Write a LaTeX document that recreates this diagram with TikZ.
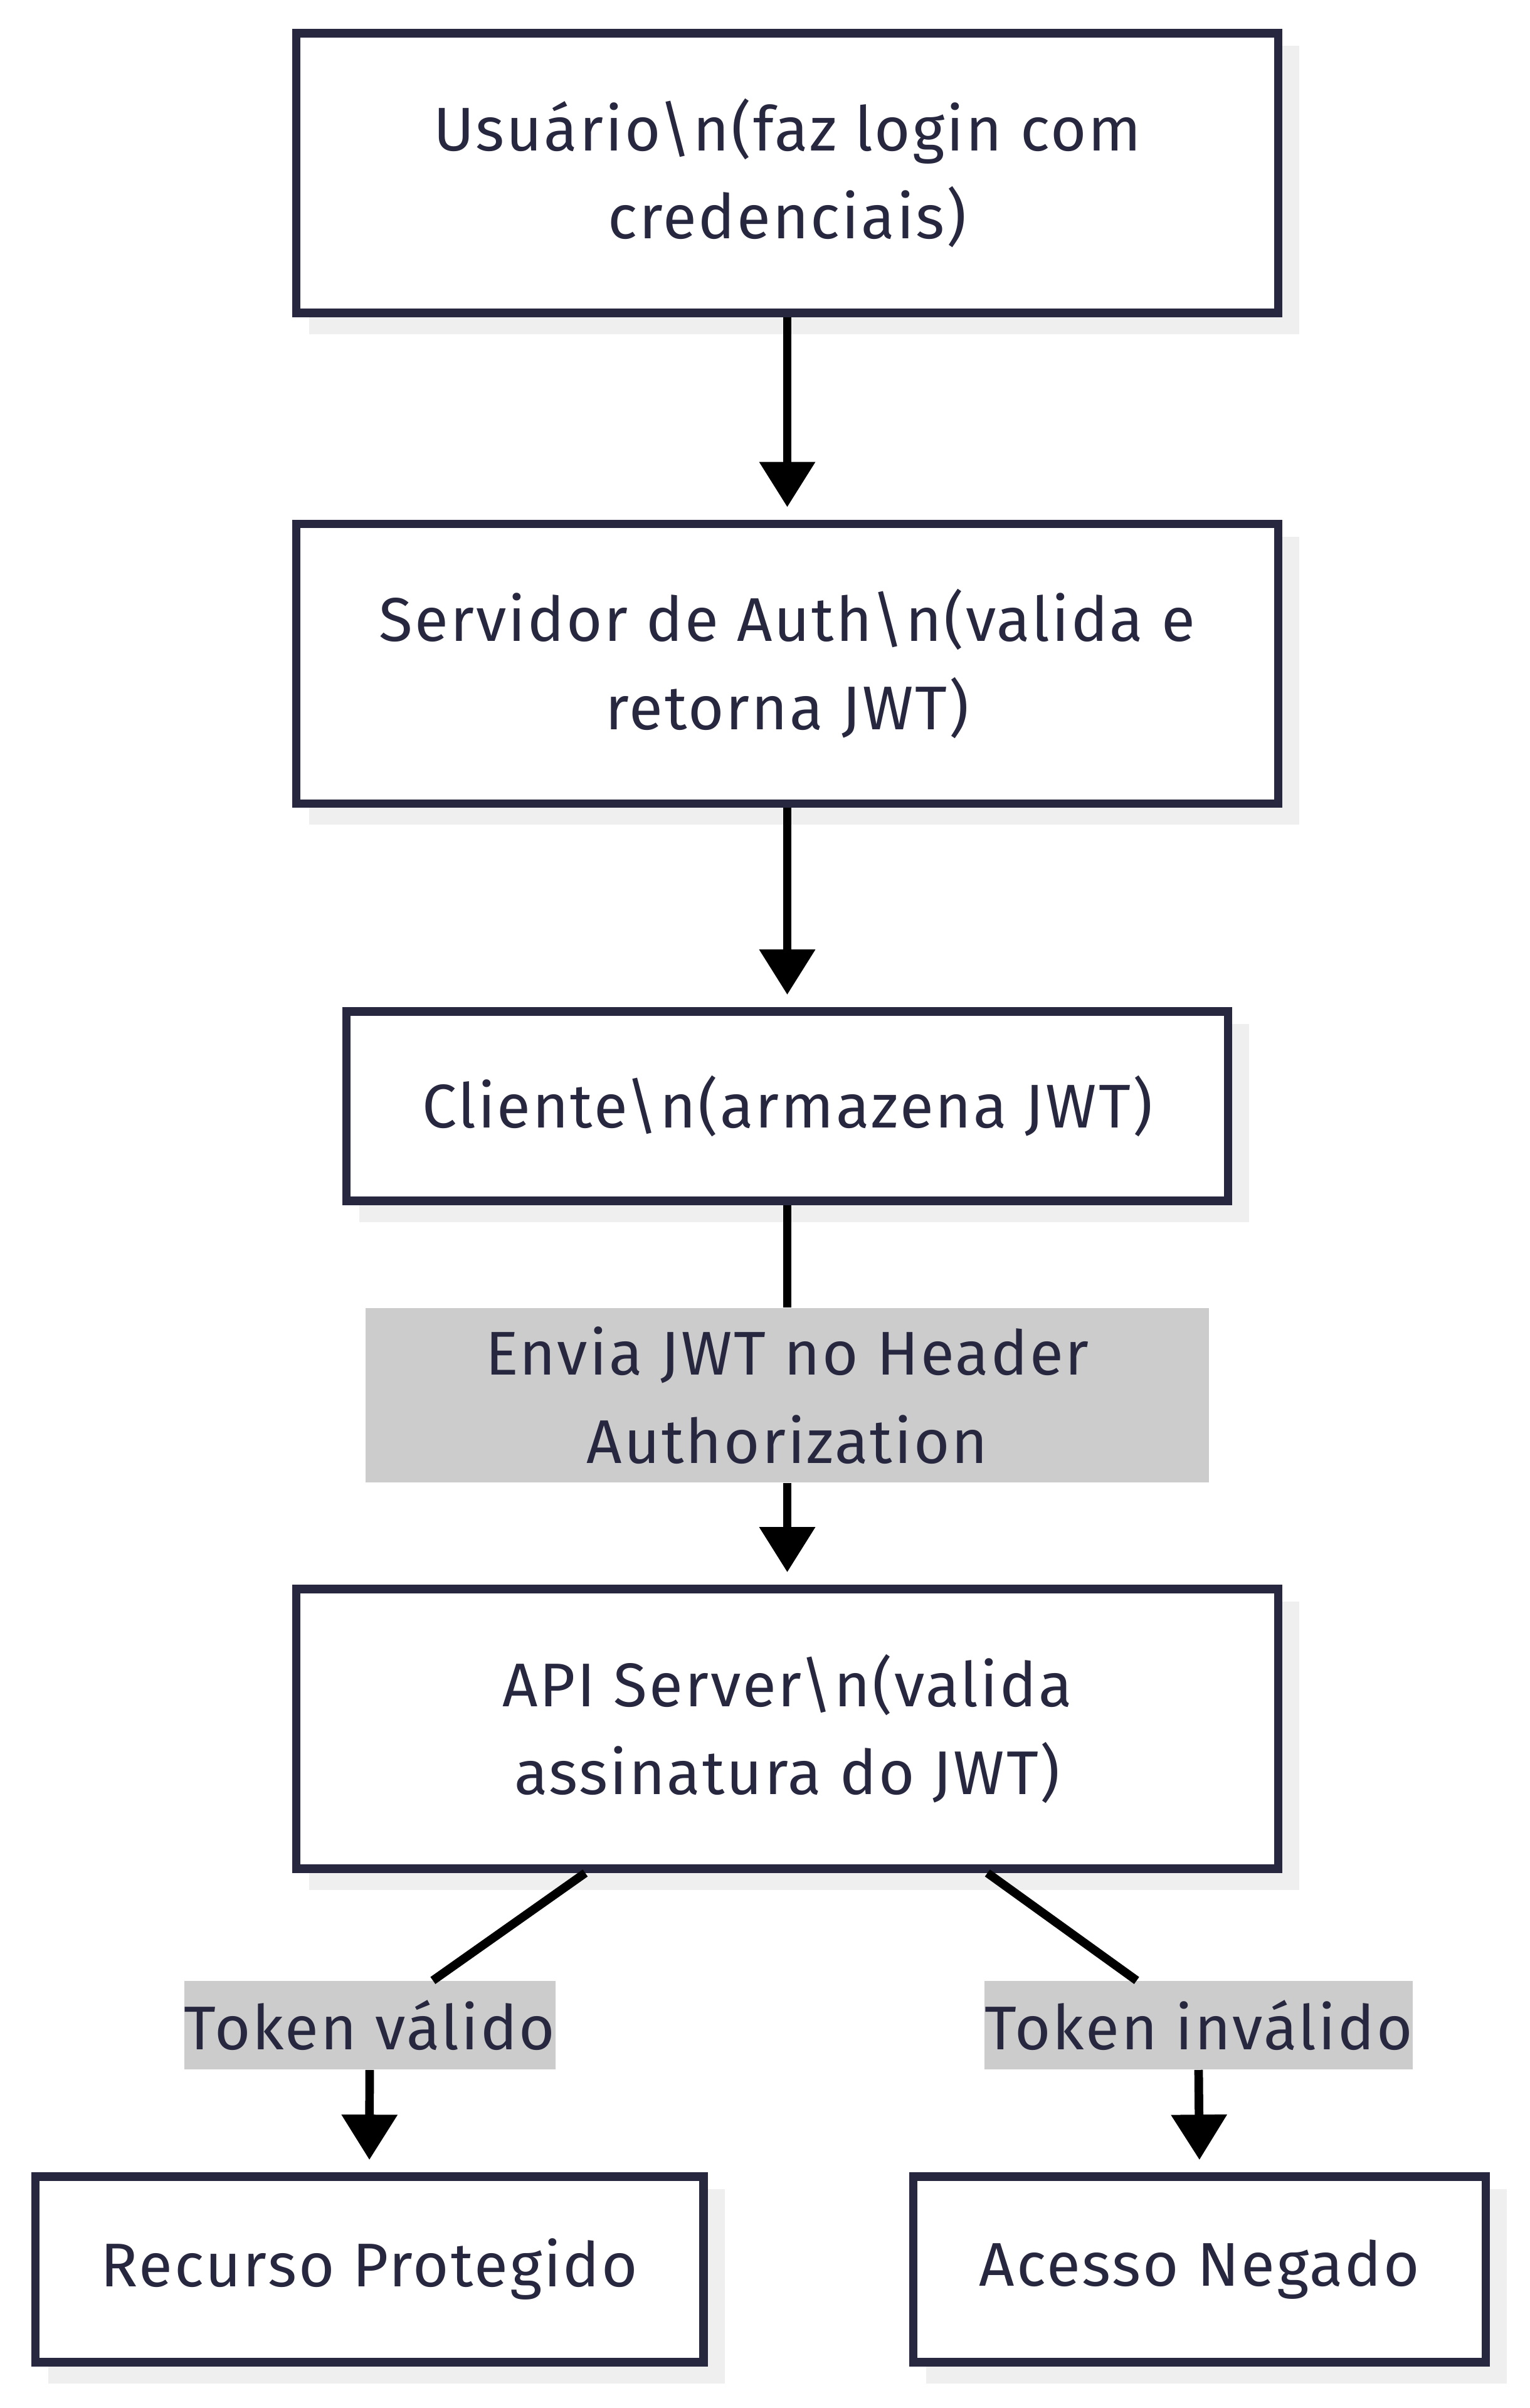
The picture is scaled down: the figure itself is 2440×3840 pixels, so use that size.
\documentclass[tikz,border=0pt]{standalone}
\usepackage{fontspec}
\setmainfont[LetterSpace=3]{Fira Sans}
\usetikzlibrary{positioning,arrows.meta,shadows}
\definecolor{navy}{HTML}{27273F}
\definecolor{lblgray}{HTML}{CCCCCC}
\definecolor{shadowgray}{HTML}{EFEFEF}

\begin{document}
\begin{tikzpicture}[x=0.01cm,y=-0.01cm,
  box/.style={draw=navy, line width=3.8pt, fill=white, text=navy, align=center,
    font=\fontsize{28}{40}\selectfont, minimum width=15.65cm, minimum height=4.46cm,
    drop shadow={shadow xshift=0.27cm, shadow yshift=-0.27cm, fill=shadowgray, draw=shadowgray, opacity=1}},
  lbl/.style={fill=lblgray, text=navy, align=center, inner sep=0pt,
    font=\fontsize{28}{40}\selectfont, minimum height=1.41cm},
  link/.style={line width=3.9pt, black},
  flow/.style={link, -{Triangle[width=0.86cm,length=0.72cm]}, shorten >=0.2cm}]
\useasboundingbox (0,0) rectangle (2440,3840);

% boxes
\node[box] (usr) at (1255.5,276) {Usuário\textbackslash n(faz login com\\credenciais)};
\node[box] (auth) at (1255.5,1058.5) {Servidor de Auth\textbackslash n(valida e\\retorna JWT)};
\node[box, minimum width=14.05cm, minimum height=3.02cm] (cli) at (1255.5,1764) {Cliente\textbackslash n(armazena JWT)};
\node[lbl, minimum width=13.44cm, minimum height=2.78cm] (env) at (1255.5,2225) {Envia JWT no Header\\Authorization};
\node[box] (api) at (1255.5,2757) {API Server\textbackslash n(valida\\assinatura do JWT)};
\node[lbl, minimum width=5.87cm] (tokv) at (589.5,3229.5) {Token válido};
\node[lbl, minimum width=6.71cm] (toki) at (1911.5,3229.5) {Token inválido};
\node[box, minimum width=10.65cm, minimum height=2.96cm] (rec) at (589,3619) {Recurso Protegido};
\node[box, minimum width=9.12cm, minimum height=2.96cm] (neg) at (1913,3619) {Acesso Negado};

% links
\coordinate (apiL) at ([xshift=-3.22cm]api.south);
\coordinate (apiR) at ([xshift=3.19cm]api.south);
\draw[flow] (usr) -- (auth);
\draw[flow] (auth) -- (cli);
\draw[link] (cli) -- (env);
\draw[flow] (env) -- (api);
\draw[link] (apiL) -- (tokv);
\draw[flow] (tokv.south) -- (rec.north);
\draw[link] (apiR) -- (toki);
\draw[flow] (toki.south) -- (neg.north);

\end{tikzpicture}
\end{document}
